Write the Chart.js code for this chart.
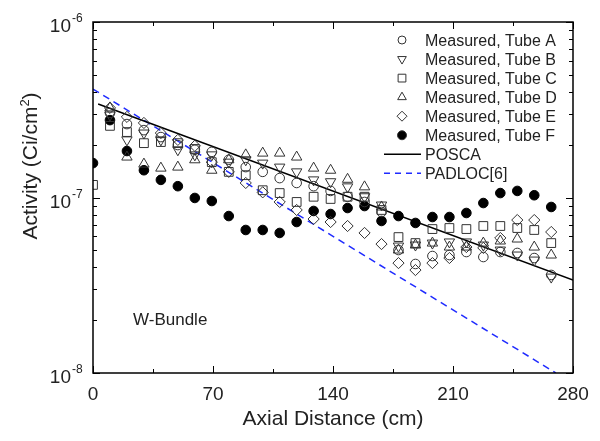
<!DOCTYPE html>
<html>
<head>
<meta charset="utf-8">
<script src="https://cdn.jsdelivr.net/npm/chart.js@4.4.1/dist/chart.umd.min.js"></script>
<style>
html,body{margin:0;padding:0;background:#fff;}
canvas{display:block;}
</style>
</head>
<body>
<canvas id="chart" width="600" height="441"></canvas>
<script>
// axial positions of the measurements (cm)
const distance=[0,9.9,19.8,29.7,39.6,49.5,59.4,69.3,79.2,89.1,99,108.9,118.8,128.7,138.6,148.5,158.4,168.3,178.2,188.1,198,207.9,217.8,227.7,237.6,247.5,257.4,267.3];

// activity (Ci/cm2)
const tubeA=[null,3.03e-7,2.62e-7,2.42e-7,2.21e-7,1.99e-7,1.87e-7,1.82e-7,1.64e-7,1.49e-7,1.40e-7,1.29e-7,1.21e-7,1.16e-7,1.09e-7,1.01e-7,9.43e-8,8.27e-8,5.02e-8,4.18e-8,4.64e-8,4.70e-8,4.89e-8,4.58e-8,4.89e-8,4.83e-8,4.52e-8,3.62e-8];
const tubeB=[null,2.95e-7,2.13e-7,2.33e-7,2.13e-7,1.87e-7,1.75e-7,1.75e-7,1.59e-7,1.64e-7,1.57e-7,1.49e-7,1.40e-7,1.26e-7,1.23e-7,1.15e-7,1.01e-7,9.06e-8,5.29e-8,5.36e-8,5.50e-8,5.58e-8,5.58e-8,5.36e-8,5.02e-8,4.70e-8,4.40e-8,3.52e-8];
const tubeC=[1.18e-7,2.56e-7,2.36e-7,2.04e-7,2.07e-7,2.04e-7,1.89e-7,1.59e-7,1.40e-7,1.34e-7,1.10e-7,1.06e-7,9.43e-8,1.01e-7,9.81e-8,1.01e-7,1.01e-7,8.49e-8,5.95e-8,5.50e-8,6.61e-8,6.70e-8,6.61e-8,6.88e-8,6.88e-8,6.70e-8,6.53e-8,5.50e-8];
const tubeD=[null,3.24e-7,1.70e-7,1.55e-7,1.47e-7,1.49e-7,1.64e-7,1.43e-7,1.64e-7,1.75e-7,1.79e-7,1.79e-7,1.70e-7,1.47e-7,1.43e-7,1.27e-7,1.15e-7,8.83e-8,5.02e-8,5.36e-8,5.50e-8,5.22e-8,5.22e-8,5.50e-8,5.65e-8,5.80e-8,5.22e-8,4.70e-8];
const tubeE=[null,3.24e-7,2.88e-7,2.66e-7,2.33e-7,2.13e-7,1.97e-7,1.59e-7,1.40e-7,1.21e-7,1.07e-7,9.43e-8,8.49e-8,7.54e-8,7.25e-8,6.88e-8,6.28e-8,5.43e-8,4.23e-8,3.86e-8,4.23e-8,4.52e-8,5.22e-8,5.16e-8,5.88e-8,7.44e-8,7.44e-8,6.36e-8];
const tubeF=[1.57e-7,2.76e-7,1.84e-7,1.43e-7,1.26e-7,1.16e-7,9.94e-8,9.55e-8,7.84e-8,6.53e-8,6.53e-8,6.28e-8,7.25e-8,8.38e-8,8.05e-8,8.71e-8,8.94e-8,7.35e-8,7.84e-8,7.16e-8,7.74e-8,7.74e-8,8.16e-8,9.30e-8,1.06e-7,1.09e-7,1.03e-7,8.83e-8];

// calculated profiles
const poscaX=[3,280];
const poscaY=[3.41e-7,3.39e-8];
const padlocX=[0,270];
const padlocY=[4.15e-7,1.0e-8];

const xTicks=[0,70,140,210,280];
const yTicks=[1e-8,1e-7,1e-6];
const yTickExp=["-8","-7","-6"];

const legendNames=["Measured, Tube A","Measured, Tube B","Measured, Tube C","Measured, Tube D","Measured, Tube E","Measured, Tube F","POSCA","PADLOC[6]"];

const FONT="Arial, 'Liberation Sans', sans-serif";
const INK="#222";

function pts(xs,ys){
    let out=[];
    xs.forEach((x,i)=>{ if(ys[i]!=null) out.push({x:x,y:ys[i]}); });
    return out;
}

function tube(label,ys,style,r,rot,fill){
    return {
        label:label,
        data:pts(distance,ys),
        showLine:false,
        pointStyle:style,
        pointRadius:r,
        pointHoverRadius:r,
        pointRotation:rot,
        pointBorderWidth:1,
        pointBorderColor:fill?"#000":"#333",
        pointBackgroundColor:fill?"#000":"rgba(0,0,0,0)"
    };
}

function marker(ctx,style,x,y,r,rot,fill){
    ctx.beginPath();
    if(style==="circle"){
        ctx.arc(x,y,r,0,Math.PI*2);
    }else if(style==="triangle"){
        let a=rot*Math.PI/180;
        for(let k=0;k<3;k++){
            let px=x+Math.sin(a)*r, py=y-Math.cos(a)*r;
            k?ctx.lineTo(px,py):ctx.moveTo(px,py);
            a+=Math.PI*2/3;
        }
        ctx.closePath();
    }else if(style==="rect"){
        let s=r*Math.SQRT1_2;
        ctx.rect(x-s,y-s,2*s,2*s);
    }else if(style==="rectRot"){
        ctx.moveTo(x,y-r);ctx.lineTo(x+r,y);ctx.lineTo(x,y+r);ctx.lineTo(x-r,y);ctx.closePath();
    }
    if(fill){ctx.fillStyle="#000";ctx.fill();}
    ctx.strokeStyle="#333";ctx.lineWidth=1;ctx.stroke();
}

const frame={
    id:"frame",
    afterDraw(chart){
        const ctx=chart.ctx, a=chart.chartArea;
        const xs=chart.scales.x, ys=chart.scales.y;
        ctx.save();
        ctx.strokeStyle="#000";
        ctx.lineWidth=1.5;
        ctx.strokeRect(a.left,a.top,a.right-a.left,a.bottom-a.top);

        // ticks, inward on all four sides
        ctx.lineWidth=1;
        ctx.beginPath();
        for(let v=0;v<=280;v+=35){
            let px=Math.round(xs.getPixelForValue(v))+0.5;
            let len=(v%70===0)?7:4;
            ctx.moveTo(px,a.bottom);ctx.lineTo(px,a.bottom-len);
            ctx.moveTo(px,a.top);ctx.lineTo(px,a.top+len);
        }
        [1e-8,1e-7].forEach(dec=>{
            for(let m=1;m<=10;m++){
                let py=Math.round(ys.getPixelForValue(dec*m))+0.5;
                let len=(m===1||m===10)?7:4;
                ctx.moveTo(a.left,py);ctx.lineTo(a.left+len,py);
                ctx.moveTo(a.right,py);ctx.lineTo(a.right-len,py);
            }
        });
        ctx.stroke();

        // tick labels
        ctx.fillStyle=INK;
        ctx.font="19px "+FONT;
        ctx.textAlign="center";
        ctx.textBaseline="alphabetic";
        xTicks.forEach(v=>ctx.fillText(String(v),xs.getPixelForValue(v),400));
        yTicks.forEach((v,i)=>{
            let py=ys.getPixelForValue(v);
            ctx.font="19px "+FONT;
            ctx.textAlign="right";
            ctx.fillText("10",71,py+10);
            ctx.font="12px "+FONT;
            ctx.textAlign="left";
            ctx.fillText(yTickExp[i],72,py);
        });

        // axis titles
        ctx.font="21px "+FONT;
        ctx.textAlign="center";
        ctx.fillText("Axial Distance (cm)",(a.left+a.right)/2,425);
        ctx.save();
        ctx.translate(37,166);
        ctx.rotate(-Math.PI/2);
        ctx.textAlign="left";
        let t1="Activity (Ci/cm";
        let w1=ctx.measureText(t1).width;
        ctx.font="13px "+FONT;
        let w2=ctx.measureText("2").width;
        ctx.font="21px "+FONT;
        let w3=ctx.measureText(")").width;
        let x0=-(w1+w2+w3)/2;
        ctx.fillText(t1,x0,0);
        ctx.font="13px "+FONT;
        ctx.fillText("2",x0+w1,-8);
        ctx.font="21px "+FONT;
        ctx.fillText(")",x0+w1+w2,0);
        ctx.restore();

        // annotation
        ctx.font="17px "+FONT;
        ctx.textAlign="left";
        ctx.fillText("W-Bundle",133,325);

        // legend
        const items=[["circle",4,0,false],["triangle",5,180,false],["rect",5.5,0,false],["triangle",5,0,false],["rectRot",5,0,false],["circle",4.5,0,true]];
        ctx.font="16px "+FONT;
        legendNames.forEach((name,i)=>{
            let cy=40+i*19.05;
            if(i<6){
                let it=items[i];
                marker(ctx,it[0],402,cy,it[1],it[2],it[3]);
            }else{
                ctx.beginPath();
                ctx.lineWidth=1.5;
                ctx.strokeStyle=i===6?"#000":"#1f2bff";
                ctx.setLineDash(i===6?[]:[6,5]);
                ctx.moveTo(384,cy);ctx.lineTo(421,cy);
                ctx.stroke();
                ctx.setLineDash([]);
            }
            ctx.fillStyle=INK;
            ctx.fillText(name,425,cy+5.5);
        });
        ctx.restore();
    }
};

new Chart(document.getElementById("chart"),{
    type:"scatter",
    data:{
        datasets:[
            tube("Measured, Tube A",tubeA,"circle",4.8,0,false),
            tube("Measured, Tube B",tubeB,"triangle",6,180,false),
            tube("Measured, Tube C",tubeC,"rect",6.2,0,false),
            tube("Measured, Tube D",tubeD,"triangle",6,0,false),
            tube("Measured, Tube E",tubeE,"rectRot",5.6,0,false),
            tube("Measured, Tube F",tubeF,"circle",4.8,0,true),
            {label:"POSCA",data:pts(poscaX,poscaY),showLine:true,borderColor:"#000",borderWidth:1.5,pointRadius:0},
            {label:"PADLOC[6]",data:pts(padlocX,padlocY),showLine:true,borderColor:"#1f2bff",borderWidth:1.5,borderDash:[7,5],pointRadius:0}
        ]
    },
    options:{
        responsive:false,
        animation:false,
        layout:{padding:{left:93,top:22,right:27,bottom:68}},
        plugins:{legend:{display:false},tooltip:{enabled:false}},
        scales:{
            x:{type:"linear",min:0,max:280,display:false},
            y:{type:"logarithmic",min:1e-8,max:1e-6,display:false}
        }
    },
    plugins:[frame]
});
</script>
</body>
</html>
